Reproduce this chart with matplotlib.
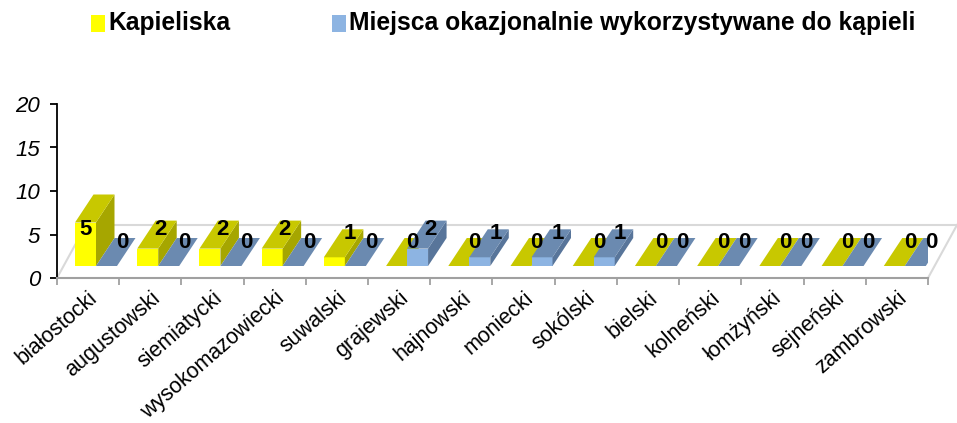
import numpy as np
import matplotlib
matplotlib.use("Agg")
import matplotlib.pyplot as plt
from matplotlib.patches import Polygon, Rectangle

# data
powiaty = ["białostocki", "augustowski", "siemiatycki", "wysokomazowiecki",
           "suwalski", "grajewski", "hajnowski", "moniecki", "sokólski",
           "bielski", "kolneński", "łomżyński", "sejneński", "zambrowski"]
kapieliska = [5, 2, 2, 2, 1, 0, 0, 0, 0, 0, 0, 0, 0, 0]
miejsca = [0, 0, 0, 0, 0, 2, 1, 1, 1, 0, 0, 0, 0, 0]
y_ticks = [0, 5, 10, 15, 20]

plt.rcParams["font.family"] = ["Liberation Sans", "DejaVu Sans"]

W, H = 957, 423
fig = plt.figure(figsize=(W / 100, H / 100), dpi=100)
ax_l, ax_r, ax_t, ax_b = 57, 928, 104, 278
ax = fig.add_axes([ax_l / W, 1 - ax_b / H, (ax_r - ax_l) / W, (ax_b - ax_t) / H])
n = len(powiaty)
ax.set_xlim(0, n)
ax.set_ylim(0, 20)

px_x = (ax_r - ax_l) / n      # pixels per category
px_y = (ax_b - ax_t) / 20     # pixels per unit

# 3d look parameters (in data units)
base = 12 / px_y
dx, dy = 18.5 / px_x, 28 / px_y
fdx, fdy = 29 / px_x, 53 / px_y
bw = 21 / px_x
offs = [18 / px_x, 39 / px_x]

colors = [
    {"front": "#FFFF00", "top": "#C8C800", "side": "#A6A600"},
    {"front": "#8DB4E2", "top": "#6B8AB0", "side": "#58759A"},
]

# floor
floor_c = "#D9D9D9"
ax.plot([0, fdx], [0, fdy], color=floor_c, lw=1.5, clip_on=False, zorder=1)
ax.plot([fdx, n + fdx], [fdy, fdy], color=floor_c, lw=1.5, clip_on=False, zorder=1)
ax.plot([n, n + fdx], [0, fdy], color=floor_c, lw=1.5, clip_on=False, zorder=1)


def bar3d(x0, v, c, z):
    b = base
    if v > 0:
        ax.add_patch(Rectangle((x0, b), bw, v, fc=c["front"], ec="none", zorder=z))
        ax.add_patch(Polygon([(x0 + bw, b), (x0 + bw + dx, b + dy),
                              (x0 + bw + dx, b + v + dy), (x0 + bw, b + v)],
                             closed=True, fc=c["side"], ec="none", zorder=z))
    ax.add_patch(Polygon([(x0, b + v), (x0 + bw, b + v),
                          (x0 + bw + dx, b + v + dy), (x0 + dx, b + v + dy)],
                         closed=True, fc=c["top"], ec="none", zorder=z))


labels = []
for i in range(n):
    for s, vals in enumerate([kapieliska, miejsca]):
        v = vals[i]
        x0 = i + offs[s]
        bar3d(x0, v, colors[s], 2 + i * 2 + s)
        yl = min(base + v + 0.85 * dy, 5.6)
        t = np.clip((yl - base - v) / dy, 0, 1)
        labels.append((x0 + bw / 2 + dx * t, yl, str(v)))

for x, y, s in labels:
    ax.text(x, y, s, ha="center", va="center", fontsize=16,
            fontweight="bold", color="black", zorder=100, clip_on=False)

# axes styling
for sp in ["top", "right"]:
    ax.spines[sp].set_visible(False)
ax.spines["left"].set_color("black")
ax.spines["left"].set_linewidth(1.3)
ax.spines["bottom"].set_color("#A0A0A0")
ax.spines["bottom"].set_linewidth(1.5)

ax.set_yticks(y_ticks)
ax.set_yticklabels([str(t) for t in y_ticks], fontsize=16, style="italic")
ax.tick_params(axis="y", length=5, width=1.3, color="black", pad=7)

ax.set_xticks(np.arange(n + 1))
ax.set_xticklabels([])
ax.set_xticks(np.arange(n) + 0.5, minor=True)
ax.set_xticklabels(powiaty, minor=True, rotation=41, ha="right",
                   rotation_mode="anchor", fontsize=15.5)
ax.tick_params(axis="x", which="major", length=5, width=1.3, color="#A0A0A0")
ax.tick_params(axis="x", which="minor", length=0, pad=7)

# legend
leg_items = [("Kapieliska", colors[0]["front"], 91),
             ("Miejsca okazjonalnie wykorzystywane do kąpieli", colors[1]["front"], 332)]
for txt, col, x in leg_items:
    fig.patches.append(Rectangle((x / W, 1 - 32 / H), 14 / W, 17 / H,
                                 transform=fig.transFigure, fc=col, ec="none"))
    fig.text((x + 17) / W, 1 - 23 / H, txt, ha="left", va="center",
             fontsize=17.7, fontweight="bold")

fig.savefig("out.png", dpi=100)
